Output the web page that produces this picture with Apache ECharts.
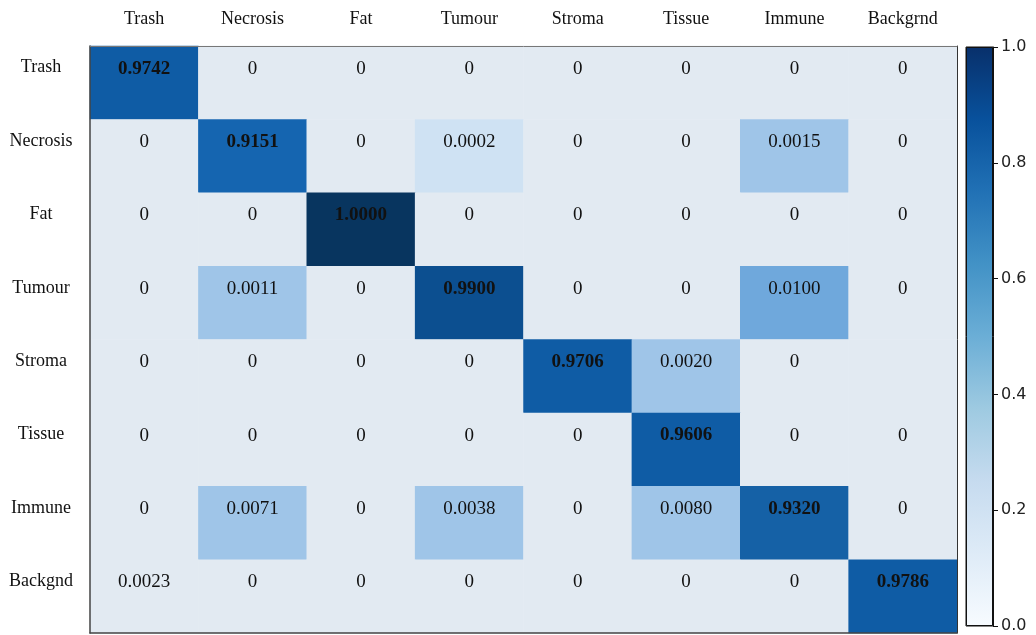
<!DOCTYPE html>
<html>
<head>
<meta charset="utf-8">
<script src="https://cdn.jsdelivr.net/npm/echarts@6/dist/echarts.min.js"></script>
<style>
html,body{margin:0;padding:0;background:#fff;}
#main{width:1036px;height:635px;}
</style>
</head>
<body>
<div id="main"></div>
<script>
// Column (predicted) labels, top
const colLabels = ['Trash','Necrosis','Fat','Tumour','Stroma','Tissue','Immune','Backgrnd'];
// Row (true) labels, left
const rowLabels = ['Trash','Necrosis','Fat','Tumour','Stroma','Tissue','Immune','Backgnd'];
// Cell values, one array per row (null = empty cell)
const rowTrash    = [0.9742, 0, 0, 0, 0, 0, 0, 0];
const rowNecrosis = [0, 0.9151, 0, 0.0002, 0, 0, 0.0015, 0];
const rowFat      = [0, 0, 1.0000, 0, 0, 0, 0, 0];
const rowTumour   = [0, 0.0011, 0, 0.9900, 0, 0, 0.0100, 0];
const rowStroma   = [0, 0, 0, 0, 0.9706, 0.0020, 0, null];
const rowTissue   = [0, 0, 0, 0, 0, 0.9606, 0, 0];
const rowImmune   = [0, 0.0071, 0, 0.0038, 0, 0.0080, 0.9320, 0];
const rowBackgnd  = [0.0023, 0, 0, 0, 0, 0, 0, 0.9786];
const values = [rowTrash, rowNecrosis, rowFat, rowTumour, rowStroma, rowTissue, rowImmune, rowBackgnd];
// Whether a cell is highlighted with colour in the picture (1) or left plain (0)
const highlighted = [
  [1,0,0,0,0,0,0,0],
  [0,1,0,1,0,0,1,0],
  [0,0,1,0,0,0,0,0],
  [0,1,0,1,0,0,1,0],
  [0,0,0,0,1,1,0,0],
  [0,0,0,0,0,1,0,0],
  [0,1,0,1,0,1,1,0],
  [0,0,0,0,0,0,0,1]
];
// Colour bar range and ticks
const cbarMin = 0, cbarMax = 1, cbarStep = 0.2;
const cbarValue = [1];

const data = [];
values.forEach((row, y) => {
  row.forEach((v, x) => {
    const key = (v !== null && highlighted[y][x]) ? v : 0;
    data.push({
      value: [x, y, key, v === null ? '' : v],
      label: { fontWeight: x === y ? 'bold' : 'normal' }
    });
  });
});

const serif = '"Liberation Serif", "DejaVu Serif", serif';
const chart = echarts.init(document.getElementById('main'));

const blues = [
  {offset: 0, color: '#08306b'},
  {offset: 0.125, color: '#08519c'},
  {offset: 0.25, color: '#2171b5'},
  {offset: 0.375, color: '#4292c6'},
  {offset: 0.5, color: '#6baed6'},
  {offset: 0.625, color: '#9ecae1'},
  {offset: 0.75, color: '#c6dbef'},
  {offset: 0.875, color: '#deebf7'},
  {offset: 1, color: '#f7fbff'}
];

chart.setOption({
  animation: false,
  backgroundColor: '#fff',
  grid: [
    {left: 90, top: 46, width: 867, height: 587, show: false},
    {left: 966, top: 47, width: 27, height: 579, show: true, borderColor: '#111', borderWidth: 1}
  ],
  xAxis: [
    {type: 'category', data: colLabels, position: 'top', gridIndex: 0, z: 10,
     axisLine: {show: true, lineStyle: {color: '#777', width: 1}}, axisTick: {show: false},
     axisLabel: {fontFamily: serif, fontSize: 18, color: '#111', margin: 18},
     splitLine: {show: false}},
    {type: 'category', data: colLabels, position: 'bottom', gridIndex: 0, z: 10,
     axisLine: {show: true, onZero: false, lineStyle: {color: '#444', width: 1.5}}, axisTick: {show: false},
     axisLabel: {show: false}},
    {type: 'category', data: ['c'], gridIndex: 1, show: false}
  ],
  yAxis: [
    {type: 'category', data: rowLabels, inverse: true, position: 'left', gridIndex: 0, z: 10,
     axisLine: {show: true, lineStyle: {color: '#444', width: 1.5}}, axisTick: {show: false},
     axisLabel: {fontFamily: serif, fontSize: 18, color: '#111', margin: 49, align: 'center',
                 formatter: v => '{a|' + v + '}',
                 rich: {a: {fontFamily: serif, fontSize: 18, color: '#111', padding: [0, 0, 30, 0]}}},
     splitLine: {show: false}},
    {type: 'category', data: rowLabels, inverse: true, position: 'right', gridIndex: 0, z: 10,
     axisLine: {show: true, onZero: false, lineStyle: {color: '#333', width: 1}}, axisTick: {show: false},
     axisLabel: {show: false}},
    {type: 'value', gridIndex: 1, position: 'right', min: cbarMin, max: cbarMax, interval: cbarStep,
     axisLine: {show: true, lineStyle: {color: '#111'}},
     axisTick: {show: true, inside: false, length: 5, lineStyle: {color: '#111'}},
     axisLabel: {fontFamily: '"DejaVu Sans", sans-serif', fontSize: 16, color: '#222', margin: 8,
                 formatter: v => v.toFixed(1)},
     splitLine: {show: false}}
  ],
  visualMap: {
    show: false,
    type: 'piecewise',
    seriesIndex: 0,
    dimension: 2,
    pieces: [
      {min: -1, max: 0.00001, color: '#e2eaf2'},
      {gt: 0.00001, lt: 0.001, color: '#cfe2f3'},
      {gte: 0.001, lt: 0.009, color: '#9fc5e8'},
      {gte: 0.009, lt: 0.5, color: '#6fa8dc'},
      {gte: 0.5, lt: 0.925, color: '#1565b0'},
      {gte: 0.925, lt: 0.95, color: '#1561a6'},
      {gte: 0.95, lt: 0.985, color: '#0f5ca5'},
      {gte: 0.985, lt: 0.999, color: '#0c4f90'},
      {gte: 0.999, max: 2, color: '#08355f'}
    ]
  },
  series: [
    {
      type: 'heatmap',
      xAxisIndex: 0, yAxisIndex: 0,
      data: data,
      label: {
        show: true,
        fontFamily: serif,
        fontSize: 19,
        color: '#111',
        offset: [0, -14],
        formatter: p => {
          const v = p.value[3];
          if (v === '' || v === null) return '';
          return v === 0 ? '0' : Number(v).toFixed(4);
        }
      },
      itemStyle: {borderWidth: 0},
      emphasis: {disabled: true}
    },
    {
      type: 'bar',
      xAxisIndex: 2, yAxisIndex: 2,
      data: cbarValue,
      barWidth: '100%',
      itemStyle: {
        color: new echarts.graphic.LinearGradient(0, 0, 0, 1, blues),
        borderColor: '#111', borderWidth: 1
      },
      silent: true
    }
  ]
});
</script>
</body>
</html>
